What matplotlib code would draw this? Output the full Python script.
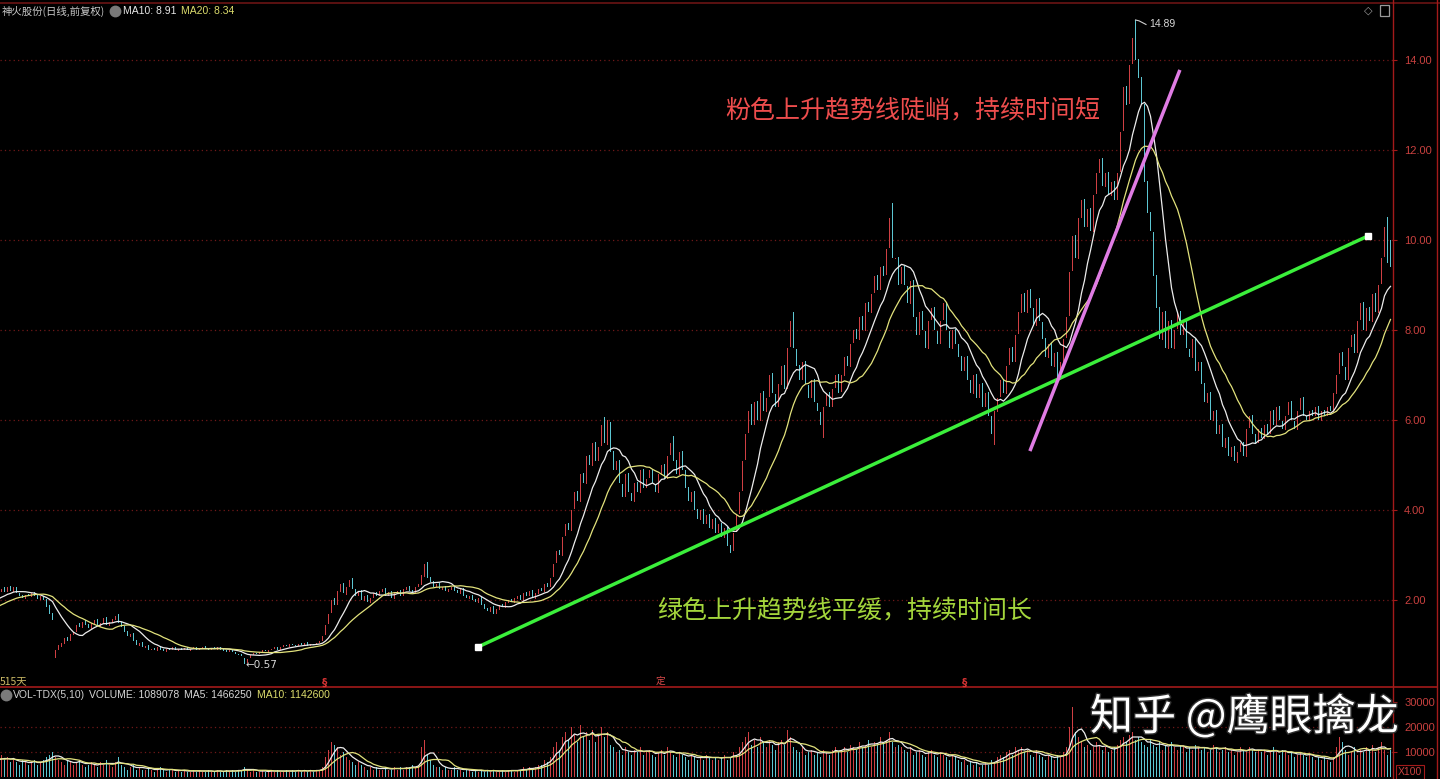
import numpy as np
import pandas as pd
import matplotlib
matplotlib.use("Agg")
import matplotlib.pyplot as plt
from matplotlib import patheffects as pe

plt.rcParams['font.family'] = ['Noto Sans CJK SC', 'DejaVu Sans']

# ---------------- data ----------------
# 20 sessions before the visible window (only used to warm up the moving averages)
close_pre = [1.55, 1.6, 1.58, 1.65, 1.7, 1.68, 1.75, 1.8, 1.78, 1.85,
             1.9, 1.88, 1.95, 2.0, 1.98, 2.05, 2.1, 2.05, 2.15, 2.2]
open_pre = [1.5, 1.54, 1.62, 1.57, 1.66, 1.72, 1.67, 1.74, 1.82, 1.77,
            1.84, 1.92, 1.87, 1.94, 2.02, 1.97, 2.04, 2.12, 2.04, 2.14]
vol_pre = [6, 7, 5, 6, 8, 7, 6, 7, 8, 6, 7, 9, 6, 7, 8, 7, 6, 8, 7, 6]

closes = [
    2.25, 2.18, 2.3, 2.2, 2.28, 2.15, 2.1, 2.05, 2.12, 2.08, 2.15, 2.1, 2.02, 2.08, 2.0, 1.85, 1.7, 1.55, 0.9, 1.0,
    1.05, 1.15, 1.1, 1.25, 1.3, 1.45, 1.4, 1.52, 1.45, 1.38, 1.48, 1.55, 1.42, 1.5, 1.6, 1.45, 1.52, 1.58, 1.65, 1.5,
    1.4, 1.3, 1.2, 1.25, 1.1, 1.0, 1.05, 0.95, 0.98, 0.9, 0.92, 0.88, 0.95, 0.9, 0.86, 0.92, 0.9, 0.95, 0.88, 0.92,
    0.9, 0.94, 0.88, 0.92, 0.95, 0.9, 0.93, 0.96, 0.92, 0.9, 0.94, 0.91, 0.95, 0.9, 0.87, 0.85, 0.88, 0.84, 0.8, 0.78,
    0.75, 0.57, 0.7, 0.78, 0.82, 0.8, 0.85, 0.88, 0.86, 0.9, 0.92, 0.95, 0.9, 0.96, 1.0, 0.97, 1.02, 1.0, 0.98, 1.03,
    1.0, 1.05, 0.98, 1.02, 1.0, 1.05, 1.1, 1.2, 1.45, 1.7, 2.0, 1.9, 2.2, 2.35, 2.15, 2.3, 2.45, 2.25, 2.1, 2.2,
    2.0, 2.1, 1.95, 2.05, 2.15, 2.1, 2.2, 2.25, 2.1, 2.18, 2.05, 2.15, 2.2, 2.1, 2.25, 2.3, 2.2, 2.15, 2.3, 2.35,
    2.55, 2.8, 2.5, 2.4, 2.3, 2.35, 2.25, 2.3, 2.2, 2.25, 2.3, 2.2, 2.15, 2.25, 2.1, 2.05, 2.1, 2.0, 1.95, 2.05,
    1.9, 1.8, 1.75, 1.85, 1.7, 1.8, 1.9, 1.85, 1.95, 2.0, 1.95, 2.05, 2.1, 2.0, 2.15, 2.1, 2.2, 2.05, 2.15, 2.25,
    2.2, 2.35, 2.3, 2.5, 2.8, 3.1, 3.0, 3.4, 3.7, 3.55, 4.0, 4.4, 4.2, 4.8, 4.6, 5.2, 5.0, 5.5, 5.1, 5.4,
    5.9, 5.5, 6.0, 5.3, 4.9, 5.1, 4.6, 4.3, 4.8, 4.4, 4.2, 4.6, 4.4, 4.9, 4.5, 4.7, 4.9, 4.6, 4.4, 4.8,
    5.0, 4.7, 5.2, 5.5, 5.1, 4.8, 5.3, 4.9, 4.5, 4.2, 4.4, 4.0, 3.8, 4.0, 3.7, 3.9, 3.6, 3.8, 3.5, 3.7,
    3.4, 3.6, 3.2, 3.05, 3.5, 3.9, 4.4, 5.1, 5.7, 6.2, 5.9, 6.4, 6.0, 6.6, 6.2, 6.5, 7.0, 6.6, 6.3, 6.8,
    7.2, 6.7, 7.6, 8.2, 7.6, 7.2, 6.9, 7.3, 6.8, 6.5, 6.9, 6.4, 6.2, 5.9, 6.3, 6.6, 6.3, 6.7, 7.0, 6.6,
    7.0, 7.4, 7.2, 7.7, 8.0, 7.8, 8.3, 8.0, 8.6, 8.4, 8.8, 9.2, 8.9, 9.4, 9.2, 9.8, 10.5, 9.6, 9.6, 9.0,
    9.4, 9.0, 8.6, 9.1, 8.3, 7.9, 8.4, 8.0, 7.6, 8.2, 8.5, 8.0, 7.7, 8.2, 8.6, 8.0, 7.6, 8.0, 7.7, 7.4,
    7.1, 7.4, 6.9, 6.6, 7.0, 6.5, 6.8, 6.3, 6.6, 6.1, 5.7, 6.2, 6.5, 6.9, 6.6, 7.2, 7.6, 7.3, 7.9, 8.4,
    8.8, 8.4, 8.9, 8.5, 8.1, 8.7, 8.2, 7.8, 7.4, 7.7, 7.2, 7.5, 6.9, 7.3, 7.8, 8.3, 9.3, 10.1, 9.6, 10.5,
    10.9, 10.3, 10.7, 10.2, 11.0, 11.5, 11.8, 11.2, 11.5, 11.0, 11.3, 10.9, 11.5, 12.4, 13.4, 13.0, 13.9, 14.5, 14.0, 13.6,
    13.0, 11.3, 10.6, 10.2, 9.2, 8.5, 7.8, 8.4, 7.6, 8.2, 7.6, 8.0, 8.4, 7.9, 8.2, 7.6, 7.4, 7.8, 7.1, 7.3,
    6.8, 6.4, 6.6, 6.0, 6.2, 5.7, 5.9, 5.4, 5.6, 5.2, 5.4, 5.1, 5.3, 5.5, 5.2, 5.8, 6.1, 5.7, 5.5, 5.8,
    5.6, 5.9, 5.7, 6.2, 5.9, 6.3, 6.0, 5.8, 6.1, 6.4, 6.0, 5.8, 6.2, 6.5, 6.1, 6.0, 6.2, 6.1, 6.3, 6.0,
    6.2, 6.1, 6.3, 6.2, 6.6, 7.0, 7.5, 7.2, 6.9, 7.6, 7.9, 7.5, 8.2, 8.6, 8.0, 8.5, 8.2, 8.8, 8.4, 9.0, 9.6, 10.3, 9.5, 9.4,
]

opens = [
    2.18, 2.28, 2.17, 2.32, 2.18, 2.3, 2.16, 2.12, 2.03, 2.14, 2.06, 2.17, 2.11, 2.0, 2.1, 2.02, 1.88, 1.72, 0.72, 0.88,
    0.95, 1.02, 1.18, 1.08, 1.22, 1.28, 1.48, 1.38, 1.55, 1.47, 1.36, 1.46, 1.57, 1.4, 1.48, 1.62, 1.43, 1.5, 1.56, 1.68,
    1.52, 1.42, 1.32, 1.18, 1.27, 1.12, 0.98, 1.07, 0.93, 1.0, 0.88, 0.94, 0.86, 0.97, 0.91, 0.85, 0.93, 0.89, 0.96, 0.87,
    0.93, 0.89, 0.95, 0.87, 0.91, 0.96, 0.89, 0.92, 0.97, 0.93, 0.89, 0.95, 0.9, 0.96, 0.91, 0.88, 0.84, 0.89, 0.85, 0.81,
    0.79, 0.72, 0.6, 0.71, 0.77, 0.83, 0.79, 0.84, 0.89, 0.85, 0.89, 0.91, 0.96, 0.89, 0.95, 1.01, 0.96, 1.03, 1.01, 0.97,
    1.04, 0.99, 1.06, 0.97, 1.03, 0.99, 1.04, 1.09, 1.22, 1.46, 1.72, 2.05, 1.88, 2.18, 2.38, 2.12, 2.28, 2.48, 2.24, 2.08,
    2.22, 1.98, 2.12, 1.93, 2.04, 2.17, 2.08, 2.18, 2.27, 2.08, 2.2, 2.03, 2.13, 2.22, 2.08, 2.23, 2.32, 2.22, 2.13, 2.28,
    2.33, 2.52, 2.84, 2.52, 2.42, 2.28, 2.37, 2.23, 2.32, 2.18, 2.23, 2.32, 2.22, 2.13, 2.27, 2.12, 2.03, 2.12, 2.02, 1.93,
    2.07, 1.92, 1.82, 1.73, 1.87, 1.68, 1.78, 1.92, 1.83, 1.93, 2.02, 1.93, 2.03, 2.12, 1.98, 2.17, 2.08, 2.22, 2.03, 2.13,
    2.27, 2.18, 2.37, 2.28, 2.52, 2.82, 3.12, 2.98, 3.42, 3.72, 3.53, 4.02, 4.42, 4.18, 4.82, 4.58, 5.22, 4.98, 5.52, 5.08,
    5.42, 6.07, 5.45, 5.95, 5.32, 4.88, 5.12, 4.58, 4.28, 4.82, 4.38, 4.18, 4.62, 4.38, 4.92, 4.48, 4.72, 4.92, 4.58, 4.38,
    4.78, 5.02, 4.68, 5.22, 5.65, 5.12, 4.78, 5.32, 4.88, 4.52, 4.18, 4.42, 4.02, 3.78, 4.02, 3.68, 3.92, 3.58, 3.82, 3.48,
    3.72, 3.38, 3.62, 3.22, 3.08, 3.52, 3.92, 4.42, 5.12, 5.72, 6.35, 5.88, 6.42, 5.98, 6.65, 6.18, 6.52, 7.05, 6.58, 6.28,
    6.78, 7.22, 6.68, 7.62, 8.4, 7.58, 7.22, 6.88, 7.32, 6.78, 6.48, 6.92, 6.38, 6.18, 5.6, 6.32, 6.62, 6.28, 6.72, 7.02,
    6.62, 6.98, 7.42, 7.18, 7.72, 8.02, 7.78, 8.32, 7.98, 8.62, 8.38, 8.82, 9.22, 8.88, 9.42, 9.22, 9.82, 10.82, 9.58, 9.62,
    9.02, 9.42, 8.98, 8.58, 9.12, 8.28, 7.88, 8.42, 7.98, 7.58, 8.22, 8.52, 7.98, 7.68, 8.22, 8.62, 7.98, 7.58, 8.02, 7.68,
    7.42, 7.08, 7.42, 6.88, 6.58, 7.02, 6.48, 6.82, 6.28, 6.62, 6.08, 5.44, 6.18, 6.52, 6.92, 6.58, 7.22, 7.62, 7.28, 7.92,
    8.38, 8.82, 8.38, 8.92, 8.48, 8.08, 8.72, 8.18, 7.82, 7.38, 7.72, 7.18, 7.52, 6.88, 7.28, 7.82, 8.32, 9.32, 10.12, 9.58,
    10.48, 10.92, 10.28, 10.72, 10.18, 11.02, 11.48, 11.82, 11.18, 11.52, 10.98, 11.32, 10.88, 11.52, 12.42, 13.42, 13.02, 13.92, 14.89, 14.02,
    13.62, 13.02, 11.32, 10.62, 10.18, 9.22, 8.52, 7.78, 8.42, 7.58, 8.22, 7.58, 8.02, 8.42, 7.88, 8.22, 7.58, 7.38, 7.82, 7.08,
    7.28, 6.82, 6.38, 6.62, 5.98, 6.22, 5.68, 5.92, 5.38, 5.62, 5.18, 5.42, 5.04, 5.28, 5.52, 5.18, 5.82, 6.12, 5.68, 5.48,
    5.82, 5.58, 5.92, 5.68, 6.22, 5.88, 6.32, 5.98, 5.78, 6.12, 6.42, 5.98, 5.78, 6.22, 6.52, 6.08, 5.98, 6.22, 6.08, 6.32,
    5.98, 6.22, 6.08, 6.32, 6.18, 6.58, 7.02, 7.52, 7.18, 6.88, 7.62, 7.92, 7.48, 8.22, 8.62, 7.98, 8.52, 8.18, 8.82, 8.38, 9.02, 9.62, 10.52, 10.0,
]

# volume, in thousands of "x100" units
volumes = [
    9, 7, 8, 6, 7, 6, 5, 7, 6, 5, 6, 7, 5, 6, 7, 8, 9, 10, 8, 7,
    6, 5, 7, 6, 5, 6, 7, 5, 4, 5, 6, 5, 4, 6, 5, 7, 5, 4, 6, 8,
    5, 4, 3, 4, 5, 3, 4, 3, 3, 4, 3, 2, 3, 4, 3, 2, 3, 3, 2, 3,
    2, 3, 2, 2, 3, 2, 3, 2, 2, 3, 2, 2, 3, 2, 2, 3, 2, 3, 2, 3,
    3, 4, 3, 2, 3, 2, 2, 3, 2, 2, 3, 2, 3, 2, 2, 3, 2, 3, 2, 3,
    2, 3, 2, 3, 2, 3, 3, 4, 8, 11, 14, 13, 12, 9, 10, 8, 7, 6, 5, 6,
    5, 4, 3, 4, 3, 4, 3, 3, 4, 3, 3, 4, 3, 4, 3, 4, 4, 5, 4, 5,
    12, 15, 9, 7, 5, 4, 4, 3, 4, 3, 3, 4, 3, 3, 2, 3, 3, 2, 3, 2,
    3, 2, 3, 2, 3, 2, 2, 3, 2, 3, 3, 2, 3, 3, 4, 3, 4, 3, 4, 5,
    5, 7, 6, 8, 12, 14, 11, 16, 18, 15, 20, 17, 14, 21, 16, 18, 15, 19, 14, 17,
    20, 16, 18, 13, 12, 10, 11, 9, 12, 10, 9, 11, 10, 12, 9, 10, 11, 9, 8, 10,
    11, 9, 12, 10, 9, 8, 10, 9, 8, 7, 9, 8, 7, 8, 7, 9, 8, 7, 8, 7,
    8, 9, 7, 8, 10, 9, 12, 14, 16, 18, 13, 15, 12, 16, 14, 12, 15, 13, 11, 14,
    15, 13, 19, 16, 12, 11, 10, 12, 9, 10, 11, 9, 10, 8, 11, 10, 9, 11, 12, 10,
    11, 12, 10, 13, 12, 11, 14, 12, 13, 15, 12, 14, 13, 16, 14, 15, 18, 14, 12, 13,
    12, 11, 10, 12, 9, 10, 11, 9, 8, 10, 11, 9, 8, 10, 9, 8, 7, 9, 8, 7,
    6, 7, 5, 6, 5, 6, 4, 5, 6, 5, 7, 6, 8, 9, 8, 10, 11, 9, 12, 11,
    12, 10, 11, 9, 8, 11, 9, 8, 7, 9, 8, 7, 9, 8, 10, 12, 20, 28, 18, 16,
    14, 12, 13, 11, 12, 14, 13, 11, 12, 10, 11, 12, 13, 15, 16, 14, 17, 18, 15, 16,
    14, 13, 12, 15, 13, 12, 14, 11, 13, 12, 14, 12, 11, 13, 12, 10, 12, 11, 13, 12,
    11, 12, 10, 11, 13, 12, 10, 11, 12, 10, 11, 9, 10, 12, 11, 10, 12, 11, 10, 11,
    10, 11, 9, 10, 12, 10, 9, 11, 10, 9, 10, 8, 9, 10, 9, 8, 9, 8, 7, 8,
    7, 8, 7, 6, 8, 12, 16, 14, 11, 9, 10, 12, 9, 11, 10, 12, 11, 13, 10, 12, 14, 11, 9, 11,
]

price_ticks = [2, 4, 6, 8, 10, 12, 14]
vol_ticks = [10000, 20000, 30000]

# user-drawn trend lines (session index, price)
green_line = [(158.8, 0.956), (455.5, 10.09)]
pink_line = [(342.8, 5.31), (392.8, 13.78)]

title_txt = '神火股份(日线,前复权)'
ma_txt = ['MA10: 8.91', 'MA20: 8.34']
vol_txt = ['VOL-TDX(5,10)', 'VOLUME: 1089078', 'MA5: 1466250', 'MA10: 1142600']
note_pink = '粉色上升趋势线陡峭，持续时间短'
note_green = '绿色上升趋势线平缓，持续时间长'
watermark = '知乎 @鹰眼擒龙'

# ---------------- build ----------------
c = np.array(close_pre + closes, float)
o = np.array(open_pre + opens, float)
v = np.array(vol_pre + volumes, float) * 1000
idx = np.arange(len(c)) - len(close_pre)

RED = '#cf3f43'
CYAN = '#5cc6d2'
cols = np.where(c >= o, RED, CYAN)
ma10 = pd.Series(c).rolling(10).mean()
ma20 = pd.Series(c).rolling(20).mean()
vma5 = pd.Series(v).rolling(5).mean()
vma10 = pd.Series(v).rolling(10).mean()

W, H = 1440, 779
fig = plt.figure(figsize=(14.4, 7.79), dpi=100, facecolor='black')


def frame(x0, y0, x1, y1):
    return [x0 / W, 1 - y1 / H, (x1 - x0) / W, (y1 - y0) / H]


FRAME = '#a31a1a'
GRID = '#701818'
LBL = '#c9413f'

ax = fig.add_axes(frame(0, 8, 1393, 686))
ax.set_facecolor('black')
axv = fig.add_axes(frame(0, 688, 1393, 779))
axv.set_facecolor('black')

xl = (-0.5, 1393 / 3 - 0.5)

# price panel
for t in price_ticks:
    ax.axhline(t, color=GRID, lw=0.9, ls=(0, (1, 2.5)), zorder=0)
ax.bar(idx, np.maximum(np.abs(c - o), 0.03), bottom=np.minimum(o, c), width=0.62,
       color=cols, linewidth=0, zorder=2)
ax.plot(idx, ma10, color='#ececec', lw=0.9, zorder=3)
ax.plot(idx, ma20, color='#e2e27c', lw=0.9, zorder=3)
gx, gy = zip(*green_line)
ax.plot(gx, gy, color='#3bef3b', lw=2.5, zorder=4, solid_capstyle='butt')
ax.plot(gx, gy, 's', color='white', ms=4, zorder=5, lw=0)
px_, py_ = zip(*pink_line)
ax.plot(px_, py_, color='#e07ce4', lw=2.5, zorder=4, solid_capstyle='butt')

vis = idx >= 0
hi_i = idx[vis][np.argmax(np.maximum(o, c)[vis])]
hi_v = np.maximum(o, c)[vis].max()
lo_i = idx[vis][np.argmin(np.minimum(o, c)[vis])]
lo_v = np.minimum(o, c)[vis].min()
ax.plot([hi_i, hi_i + 1.2, hi_i + 3.5], [hi_v, hi_v - 0.02, hi_v - 0.1], color='#d0d0d0', lw=0.8, zorder=5)
ax.text(hi_i + 4.5, hi_v - 0.1, f'{hi_v:.2f}', color='#d8d8d8', fontsize=7.5,
        family=['Liberation Sans'], va='center', ha='left', zorder=6)
ax.text(lo_i + 0.3, lo_v - 0.02, f'←{lo_v:.2f}', color='#d8d8d8', fontsize=7.5,
        family=['DejaVu Sans'], va='center', ha='left', zorder=6)

ax.set_xlim(*xl)
ax.set_ylim(0.089, 15.156)
ax.yaxis.tick_right()
ax.set_yticks(price_ticks)
ax.set_yticklabels([f'{t:.2f}' for t in price_ticks])
ax.tick_params(axis='y', colors=FRAME, labelcolor=LBL, length=3, width=0.8, pad=5, labelsize=8)
ax.set_xticks([])
for lbl in ax.get_yticklabels():
    lbl.set_fontfamily('Liberation Sans')
for s in ax.spines.values():
    s.set_visible(False)

# volume panel
for t in [10000, 20000]:
    axv.axhline(t, color=GRID, lw=0.9, ls=(0, (1, 2.5)), zorder=0)
axv.bar(idx, v, width=0.62, color=cols, linewidth=0, zorder=2)
axv.plot(idx, vma5, color='#ececec', lw=0.9, zorder=3)
axv.plot(idx, vma10, color='#e2e27c', lw=0.9, zorder=3)
axv.set_xlim(*xl)
axv.set_ylim(-800, 35600)
axv.yaxis.tick_right()
axv.set_yticks(vol_ticks)
axv.set_yticklabels([str(t) for t in vol_ticks])
axv.tick_params(axis='y', colors=FRAME, labelcolor=LBL, length=3, width=0.8, pad=5, labelsize=8)
axv.set_xticks([])
for lbl in axv.get_yticklabels():
    lbl.set_fontfamily('Liberation Sans')
for s in axv.spines.values():
    s.set_visible(False)

# overlay in pixel coordinates for frame and texts
ov = fig.add_axes([0, 0, 1, 1], facecolor='none')
ov.set_xlim(0, W)
ov.set_ylim(H, 0)
ov.axis('off')
ov.plot([0, 1440], [3, 3], color='#6a1414', lw=1.2)
ov.plot([0, 1437], [687, 687], color=FRAME, lw=1.2)
ov.plot([1393, 1393], [0, 779], color=FRAME, lw=1.0)
ov.plot([1437, 1437], [0, 779], color=FRAME, lw=1.0)

ov.text(2, 11, title_txt, color='#c8c8c8', fontsize=7.5, va='center', ha='left')
ov.plot(115, 11, 'o', ms=7.5, color='#7a7a7a')
ov.text(123, 11, ma_txt[0], color='#e8e8e8', fontsize=7.5, va='center', ha='left', family=['Liberation Sans'])
ov.text(181, 11, ma_txt[1], color='#dcdc6c', fontsize=7.5, va='center', ha='left', family=['Liberation Sans'])
ov.text(1368, 11, '◇', color='#9a9a9a', fontsize=8, va='center', ha='center', family=['DejaVu Sans'])
ov.add_patch(plt.Rectangle((1380, 5), 9, 11, fill=False, ec='#9a9a9a', lw=0.9))

ov.text(0, 681, '515天', color='#cdbb66', fontsize=7.5, va='center', ha='left')
for xs in (325, 965):
    ov.text(xs, 683, '§', color='#d83434', fontsize=7.5, va='center', ha='center', family=['DejaVu Sans'],
            fontweight='bold')
ov.text(661, 681, '定', color='#d84a4a', fontsize=7, va='center', ha='center')

ov.plot(6, 695, 'o', ms=7.5, color='#7a7a7a')
for x0, t, col in zip([13, 89, 184, 257], vol_txt, ['#d0d0d0', '#d8d8d8', '#d8d8d8', '#dcdc6c']):
    ov.text(x0, 695, t, color=col, fontsize=7.5, va='center', ha='left', family=['Liberation Sans'])
ov.text(1398, 772, 'X100', color=LBL, fontsize=7.5, va='center', ha='left', family=['Liberation Sans'],
        bbox=dict(boxstyle='square,pad=0.15', fc='black', ec=FRAME, lw=0.8))

ov.text(725, 110, note_pink, color='#ee4d4d', fontsize=18, va='center', ha='left')
ov.text(657, 610, note_green, color='#a4d63c', fontsize=18, va='center', ha='left')
ov.text(1090, 718, watermark, color='white', fontsize=31, va='center', ha='left',
        path_effects=[pe.withStroke(linewidth=2, foreground='#303030')])

fig.savefig('out.png', dpi=100, facecolor='black')
